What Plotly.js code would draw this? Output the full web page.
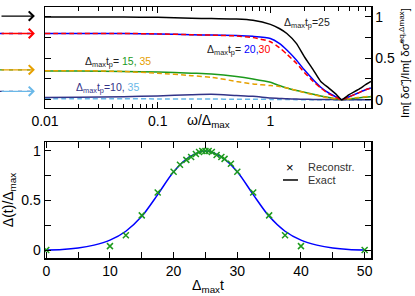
<!DOCTYPE html>
<html><head><meta charset="utf-8">
<script src="https://cdn.plot.ly/plotly-3.0.1.min.js"></script>
<style>html,body{margin:0;padding:0;background:#fff}#plot{width:415px;height:296px}</style>
</head><body><div id="plot"></div>
<script>
// ---- top panel data: omega / Delta_max ----
const omega = [0.01, 0.02, 0.05, 0.1, 0.2, 0.3, 0.5, 0.7, 1.0, 1.2, 1.4, 1.7, 2.0, 2.4, 2.8, 3.3, 3.8, 4.3, 5, 6, 7, 7.8];
const tp25 = [1.0, 1.0, 0.998, 0.995, 0.985, 0.98, 0.975, 0.96, 0.91, 0.86, 0.80, 0.68, 0.52, 0.36, 0.22, 0.14, 0.07, 0.0, 0.06, 0.12, 0.18, 0.22];
const tp20 = [0.80, 0.80, 0.80, 0.795, 0.785, 0.78, 0.775, 0.765, 0.74, 0.68, 0.60, 0.48, 0.36, 0.24, 0.15, 0.08, 0.035, 0.0, 0.035, 0.08, 0.12, 0.14];
const tp30 = [0.80, 0.80, 0.80, 0.795, 0.785, 0.78, 0.77, 0.75, 0.70, 0.63, 0.55, 0.44, 0.33, 0.22, 0.14, 0.07, 0.03, 0.0, 0.035, 0.08, 0.12, 0.14];
const tp15 = [0.345, 0.345, 0.34, 0.335, 0.32, 0.31, 0.28, 0.25, 0.21, 0.17, 0.14, 0.11, 0.09, 0.065, 0.045, 0.025, 0.01, 0.0, 0.01, 0.02, 0.03, 0.035];
const tp35a = [0.35, 0.35, 0.34, 0.32, 0.29, 0.27, 0.22, 0.19, 0.17, 0.16, 0.14, 0.11, 0.085, 0.06, 0.04, 0.02, 0.01, 0.0, 0.01, 0.025, 0.035, 0.04];
const tp10 = [0.025, 0.028, 0.035, 0.045, 0.06, 0.065, 0.05, 0.04, 0.02, 0.015, 0.01, 0.007, 0.005, 0.003, 0.002, 0.001, 0.0, 0.0, 0.0, 0.0, 0.0, 0.0];
const tp35b = [0.01, 0.01, 0.01, 0.009, 0.008, 0.007, 0.005, 0.004, 0.003, 0.002, 0.001, 0.0, 0.0, 0.0, 0.0, 0.0, 0.0, 0.0, 0.0, 0.0, 0.0, 0.0];
const arrowLevels = [1.01, 0.80, 0.36, 0.10];

// ---- bottom panel data ----
const tExact = [0, 2.5, 5, 7.5, 10, 12.5, 15, 17.5, 20, 22.5, 25, 27.5, 30, 32.5, 35, 37.5, 40, 42.5, 45, 47.5, 50];
const dExact = [0.0, 0.005, 0.02, 0.05, 0.10, 0.19, 0.34, 0.56, 0.79, 0.94, 1.0, 0.94, 0.79, 0.56, 0.34, 0.19, 0.10, 0.05, 0.02, 0.005, 0.0];
const tRec = [0, 10, 12.5, 15, 17.5, 20, 21, 22, 22.75, 23.5, 24, 24.5, 25, 25.5, 26, 26.75, 27.5, 28, 29, 30, 32.5, 35, 37.5, 40, 50];
const dRec = [0, 0.04, 0.15, 0.35, 0.58, 0.79, 0.86, 0.91, 0.94, 0.97, 0.99, 1.0, 1.0, 1.0, 0.99, 0.96, 0.94, 0.92, 0.87, 0.79, 0.58, 0.35, 0.15, 0.04, 0];
const legendNames = ['Reconstr.', 'Exact'];

const C = {black:'#000000', blue:'#0000ff', red:'#ff0000', green:'#1c9a1c', orange:'#e6a000', navy:'#333388', lblue:'#6ab8e8'};
const FONT = '"Liberation Sans", Arial, sans-serif';

function ln(y, color, dash, name) {
  return {x: omega, y: y, xaxis:'x', yaxis:'y', type:'scatter', mode:'lines', name: name, showlegend:false,
    line:{color: color, width:1.5, dash: dash || 'solid', shape:'spline', smoothing:0.6}, hoverinfo:'skip'};
}
const traces = [
  ln(tp35b, C.lblue, '5px,3px', 'tp=35 (10)'),
  ln(tp10, C.navy, 'solid', 'tp=10'),
  ln(tp15, C.green, 'solid', 'tp=15'),
  ln(tp35a, C.orange, '5px,3px', 'tp=35 (15)'),
  ln(tp20, C.blue, 'solid', 'tp=20'),
  ln(tp30, C.red, '5px,3px', 'tp=30'),
  ln(tp25, C.black, 'solid', 'tp=25'),
  {x: tExact, y: dExact, xaxis:'x2', yaxis:'y2', type:'scatter', mode:'lines', showlegend:false,
   line:{color:C.blue, width:1.5, shape:'spline', smoothing:0.8}, name:legendNames[1]},
  {x: tRec, y: dRec, xaxis:'x2', yaxis:'y2', type:'scatter', mode:'markers', showlegend:false,
   marker:{symbol:'x-thin-open', size:6, color:C.green, line:{color:C.green, width:1.5}}, name:legendNames[0]}
];

const arrowColors = [C.black, C.red, C.orange, C.lblue];
const dashColors = [null, C.blue, C.green, C.navy];
const annotations = [];
const shapes = [];
arrowLevels.forEach((v, i) => {
  annotations.push({xref:'paper', yref:'y', x:-0.031, y:v, ax:-35, ay:0, axref:'pixel', ayref:'pixel',
    text:'', showarrow:true, arrowhead:4, arrowsize:1.3, arrowwidth:1.4, arrowcolor:arrowColors[i]});
  if (dashColors[i]) {
    shapes.push({type:'line', xref:'paper', yref:'y', x0:-0.138, x1:-0.045, y0:v, y1:v,
      line:{color:dashColors[i], width:1.4, dash:'4px,5px'}});
  }
});

const lab = (x, y, txt) => ({xref:'x', yref:'y', x:x, y:y, text:txt, showarrow:false, xanchor:'left', yanchor:'middle',
  font:{family:FONT, size:10.5, color:'#222'}});
annotations.push(lab(0.106, 0.93, 'Δ<sub>max</sub>t<sub>p</sub>=25'));
annotations.push(lab(-0.584, 0.60, 'Δ<sub>max</sub>t<sub>p</sub>= <span style="color:#0000ff">20,</span><span style="color:#ff0000">30</span>'));
annotations.push(lab(-1.664, 0.46, 'Δ<sub>max</sub>t<sub>p</sub>= <span style="color:#1c9a1c">15,</span> <span style="color:#e6a000">35</span>'));
annotations.push(lab(-1.743, 0.145, '<span style="color:#333388">Δ<sub>max</sub>t<sub>p</sub>=10,</span> <span style="color:#6ab8e8">35</span>'));
annotations.push({xref:'paper', yref:'paper', x:0.50, y:0.545, text:'ω/Δ<sub>max</sub>', showarrow:false,
  xanchor:'center', yanchor:'middle', font:{family:FONT, size:14, color:'#000'}});
// right-hand y title of the top panel
annotations.push({xref:'paper', yref:'paper', x:1.103, y:0.775, text:'Im[ δσ̃ ]/Im[ δσ̃<sup>eq,Δmax</sup>]', textangle:-90,
  showarrow:false, xanchor:'center', yanchor:'middle', font:{family:FONT, size:11.5, color:'#000'}});
// legend of the bottom panel
annotations.push({xref:'paper', yref:'paper', x:0.7515, y:0.3625, text:'×', showarrow:false, xanchor:'center', yanchor:'middle',
  font:{family:FONT, size:13, color:'#000'}});
annotations.push({xref:'paper', yref:'paper', x:0.80, y:0.3625, text:legendNames[0], showarrow:false, xanchor:'left', yanchor:'middle',
  font:{family:FONT, size:11, color:'#333'}});
annotations.push({xref:'paper', yref:'paper', x:0.80, y:0.3108, text:legendNames[1], showarrow:false, xanchor:'left', yanchor:'middle',
  font:{family:FONT, size:11, color:'#333'}});
shapes.push({type:'line', xref:'paper', yref:'paper', x0:0.730, x1:0.776, y0:0.3108, y1:0.3108, line:{color:'#000', width:1.5}});

const axBase = {showline:true, linecolor:'#000', linewidth:1.5, mirror:'ticks', ticks:'inside', ticklen:6,
  tickwidth:1, tickcolor:'#000', showgrid:false, zeroline:false, tickfont:{family:FONT, size:14, color:'#000'}};

const layout = {
  width:415, height:296, margin:{l:45, r:44, t:7, b:38},
  paper_bgcolor:'#fff', plot_bgcolor:'#fff', font:{family:FONT, color:'#000'},
  xaxis: Object.assign({}, axBase, {type:'log', domain:[0,1], anchor:'y', range:[-2, 0.893],
    tickvals:[0.01, 0.1, 1], ticktext:['0.01','0.1','1'],
    minor:{ticks:'inside', ticklen:3.5, tickcolor:'#000', tickvals:[0.02,0.03,0.04,0.05,0.06,0.07,0.08,0.09,0.2,0.3,0.4,0.5,0.6,0.7,0.8,0.9,2,3,4,5,6,7]}}),
  yaxis: Object.assign({}, axBase, {domain:[0.598, 1], anchor:'x', side:'right', range:[-0.1, 1.12],
    tickvals:[0, 0.5, 1], ticktext:['0','0.5','1'],
    minor:{ticks:'inside', ticklen:6, tickcolor:'#000', dtick:0.25}}),
  xaxis2: Object.assign({}, axBase, {domain:[0,1], anchor:'y2', range:[-0.2, 51],
    tickvals:[0,10,20,30,40,50], minor:{ticks:'inside', ticklen:6, tickcolor:'#000', dtick:5},
    title:{text:'Δ<sub>max</sub>t', font:{family:FONT, size:14, color:'#000'}, standoff:2}}),
  yaxis2: Object.assign({}, axBase, {domain:[0, 0.462], anchor:'x2', range:[-0.08, 1.09],
    tickvals:[0, 0.5, 1], ticktext:['0','0.5','1'],
    minor:{ticks:'inside', ticklen:6, tickcolor:'#000', dtick:0.25},
    title:{text:'Δ(t)/Δ<sub>max</sub>', font:{family:FONT, size:14, color:'#000'}, standoff:4}}),
  showlegend:false,
  annotations: annotations,
  shapes: shapes
};
Plotly.newPlot('plot', traces, layout, {staticPlot:true, displayModeBar:false});
</script></body></html>
